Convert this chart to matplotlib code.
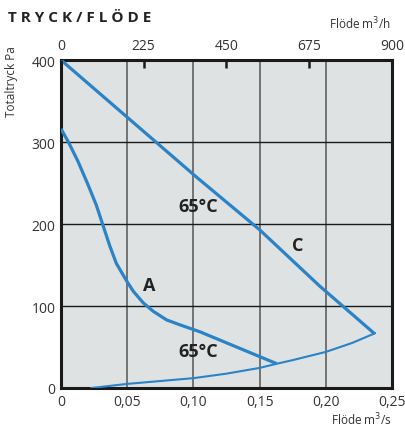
import matplotlib
matplotlib.use("Agg")
import matplotlib.pyplot as plt

# ---- data ----
flow_ticks = [0, 0.05, 0.10, 0.15, 0.20, 0.25]
flow_tick_labels = ["0", "0,05", "0,10", "0,15", "0,20", "0,25"]
top_ticks = [0, 225, 450, 675, 900]
top_tick_labels = ["0", "225", "450", "675", "900"]
p_ticks = [0, 100, 200, 300, 400]

c_flow = [0.0, 0.1025, 0.150, 0.1956, 0.237]
c_pres = [400, 257, 193, 124, 66]

a_flow = [0.0, 0.0053, 0.0128, 0.0204, 0.0267, 0.0317, 0.0368, 0.0418,
          0.0496, 0.0546, 0.0622, 0.0697, 0.0798, 0.0899, 0.105, 0.163]
a_pres = [316, 301, 276.5, 248, 223, 198.5, 173.6, 152,
          130.5, 118, 103.7, 93.5, 83, 77, 68.5, 29.6]

sys_flow = [0.023, 0.05, 0.075, 0.10, 0.125, 0.15, 0.163, 0.175, 0.20, 0.22, 0.237]
sys_pres = [0, 5, 8.5, 12, 17.5, 24.5, 29.6, 34, 44, 55, 66.7]

blue = "#2a82c7"
txt = "#333333"
font = ["Open Sans", "DejaVu Sans"]

fig = plt.figure(figsize=(4.06, 4.27), dpi=100)
ax = fig.add_axes([0.1502, 0.0890, 0.8153, 0.7681])
ax.set_facecolor("#dfe2e3")
ax.set_xlim(0, 0.25)
ax.set_ylim(0, 400)

for x in flow_ticks[1:-1]:
    ax.axvline(x, color="#555555", lw=1.1, zorder=1)
for y in p_ticks[1:-1]:
    ax.axhline(y, color="#1a1a1a", lw=1.0, zorder=1)

ax.plot(c_flow, c_pres, color=blue, lw=2.3, zorder=3, solid_capstyle="butt",
        solid_joinstyle="round")
ax.plot(a_flow, a_pres, color=blue, lw=2.3, zorder=3, solid_capstyle="butt",
        solid_joinstyle="round")
ax.plot(sys_flow, sys_pres, color=blue, lw=1.5, zorder=3, solid_joinstyle="round")

for s in ax.spines.values():
    s.set_linewidth(2.2)
    s.set_color("#1a1a1a")

ax.set_xticks(flow_ticks)
ax.set_xticklabels(flow_tick_labels, fontfamily=font, fontsize=10, color=txt)
ax.set_yticks(p_ticks)
ax.set_yticklabels([str(v) for v in p_ticks], fontfamily=font, fontsize=10, color=txt)
ax.tick_params(axis="both", length=0, pad=4)

top = ax.twiny()
top.set_xlim(0, 900)
top.set_xticks(top_ticks)
top.set_xticklabels(top_tick_labels, fontfamily=font, fontsize=10, color=txt)
top.tick_params(axis="x", direction="in", length=6, width=1.8, color="#1a1a1a", pad=5)
for s in top.spines.values():
    s.set_visible(False)

lbl = dict(fontsize=13, fontweight="bold", color="#222222", ha="center", va="center",
           fontfamily=font, zorder=4)
ax.text(0.1035, 222, "65°C", **lbl)
ax.text(0.1035, 45, "65°C", **lbl)
ax.text(0.179, 174, "C", **lbl)
ax.text(0.0665, 126, "A", **lbl)

fig.text(8/406, 1 - 18/427, "T R Y C K / F L Ö D E", fontsize=11, fontweight="bold",
         color="#222222", ha="left", va="center", fontfamily=font)
fig.text(391/406, 1 - 24/427, "Flöde m$^{3}$/h", fontsize=8.5, color=txt,
         ha="right", va="center", fontfamily=font)
fig.text(392/406, 1 - 420/427, "Flöde m$^{3}$/s", fontsize=8.5, color=txt,
         ha="right", va="center", fontfamily=font)
fig.text(12/406, 1 - 82/427, "Totaltryck Pa", fontsize=8.5, color=txt,
         ha="center", va="center", rotation=90, fontfamily=font)

fig.savefig("out.png", dpi=100)
